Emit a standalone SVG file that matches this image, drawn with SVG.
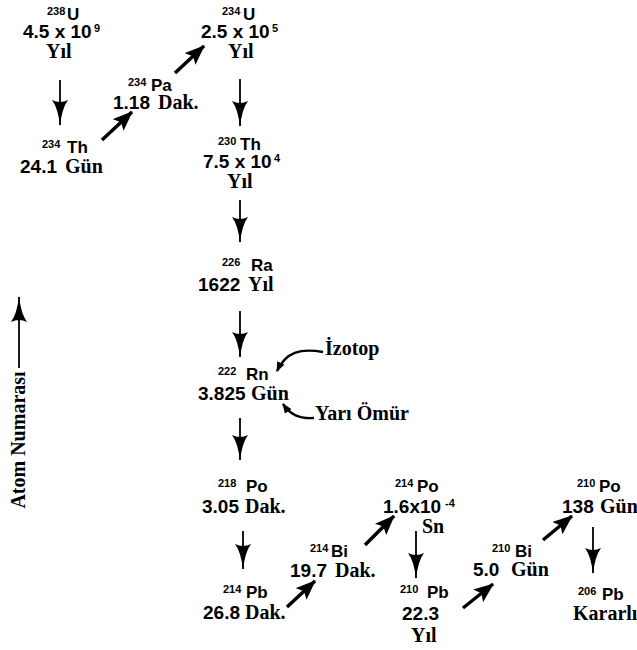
<svg xmlns="http://www.w3.org/2000/svg" width="637" height="650" viewBox="0 0 637 650">
<defs>
<style>
.s{font-family:"Liberation Sans",Arial,sans-serif;font-weight:bold;font-size:19px;fill:#000}
.e{font-family:"Liberation Sans",Arial,sans-serif;font-weight:bold;font-size:17px;fill:#000}
.r{font-family:"Liberation Serif","Times New Roman",serif;font-weight:bold;font-size:20px;fill:#000}
.p{font-family:"Liberation Sans",Arial,sans-serif;font-weight:bold;font-size:11px;fill:#000}
.v{stroke:#000;stroke-width:1.8;fill:none}
.d{stroke:#000;stroke-width:3.5;fill:none}
.c{stroke:#000;stroke-width:2.4;fill:none}
</style>
<marker id="ah" viewBox="0 0 26 16" refX="25" refY="8" markerWidth="26" markerHeight="16" markerUnits="userSpaceOnUse" orient="auto">
<path d="M0,0 Q8,6 26,8 Q8,10 0,16 Q4,8 0,0 Z" fill="#000"/>
</marker>
<marker id="ad" viewBox="0 0 20 16" refX="19" refY="8" markerWidth="20" markerHeight="16" markerUnits="userSpaceOnUse" orient="auto">
<path d="M0,0 L20,8 L0,16 L4,8 Z" fill="#000"/>
</marker>
<marker id="as" viewBox="0 0 10 8" refX="9" refY="4" markerWidth="10" markerHeight="8" markerUnits="userSpaceOnUse" orient="auto">
<path d="M0,0 L10,4 L0,8 Z" fill="#000"/>
</marker>
</defs>
<rect width="637" height="650" fill="#fff"/>

<g id="connectors">
<line class="v" x1="60" y1="80" x2="60" y2="125" marker-end="url(#ah)"/>
<line class="d" x1="102" y1="140" x2="132" y2="112" marker-end="url(#ad)"/>
<line class="d" x1="175" y1="73" x2="204" y2="46" marker-end="url(#ad)"/>
<line class="v" x1="240" y1="79" x2="240" y2="126" marker-end="url(#ah)"/>
<line class="v" x1="240" y1="200" x2="240" y2="242" marker-end="url(#ah)"/>
<line class="v" x1="240" y1="311" x2="240" y2="357" marker-end="url(#ah)"/>
<line class="v" x1="240" y1="418" x2="240" y2="460" marker-end="url(#ah)"/>
<line class="v" x1="243" y1="531" x2="243" y2="569" marker-end="url(#ah)"/>
<line class="d" x1="287" y1="607" x2="315" y2="581" marker-end="url(#ad)"/>
<line class="d" x1="365" y1="545" x2="394" y2="516" marker-end="url(#ad)"/>
<line class="v" x1="416" y1="531" x2="416" y2="578" marker-end="url(#ah)"/>
<line class="d" x1="463" y1="608" x2="493" y2="584" marker-end="url(#ad)"/>
<line class="d" x1="543" y1="540" x2="572" y2="516" marker-end="url(#ad)"/>
<line class="v" x1="593" y1="527" x2="593" y2="573" marker-end="url(#ah)"/>
<path class="c" d="M323,352 C300,348 286,352 277,371" marker-end="url(#as)"/>
<path class="c" d="M314,418 C298,419 290,414 283,404" marker-end="url(#as)"/>
<line class="v" x1="19" y1="368" x2="19" y2="297" marker-end="url(#ah)"/>
</g>

<g id="u238">
<text class="p" x="47" y="15">238</text><text class="e" x="67" y="20">U</text>
<text class="s" x="23" y="38">4.5 x 10</text><text class="p" x="94" y="32">9</text>
<text class="r" x="46" y="58">Yıl</text>
</g>
<g id="th234">
<text class="p" x="42" y="148">234</text><text class="e" x="67" y="153">Th</text>
<text class="s" x="20" y="173">24.1</text><text class="r" x="65" y="173">Gün</text>
</g>
<g id="pa234">
<text class="p" x="128" y="86">234</text><text class="e" x="151" y="91">Pa</text>
<text class="s" x="113" y="109">1.18</text><text class="r" x="158" y="109">Dak.</text>
</g>
<g id="u234">
<text class="p" x="222" y="15">234</text><text class="e" x="243" y="20">U</text>
<text class="s" x="201" y="38">2.5 x 10</text><text class="p" x="272" y="32">5</text>
<text class="r" x="228" y="58">Yıl</text>
</g>
<g id="th230">
<text class="p" x="218" y="145">230</text><text class="e" x="240" y="150">Th</text>
<text class="s" x="203" y="168">7.5 x 10</text><text class="p" x="274" y="162">4</text>
<text class="r" x="227" y="188">Yıl</text>
</g>
<g id="ra226">
<text class="p" x="222" y="266">226</text><text class="e" x="251" y="271">Ra</text>
<text class="s" x="198" y="291">1622</text><text class="r" x="248" y="291">Yıl</text>
</g>
<g id="rn222">
<text class="p" x="218" y="375">222</text><text class="e" x="246" y="380">Rn</text>
<text class="s" x="198" y="400">3.825</text><text class="r" x="251" y="400">Gün</text>
</g>
<g id="izotop">
<text class="r" x="325" y="355">İzotop</text>
</g>
<g id="yari-omur">
<text class="r" x="315" y="420">Yarı Ömür</text>
</g>
<g id="po218">
<text class="p" x="218" y="487">218</text><text class="e" x="246" y="492">Po</text>
<text class="s" x="202" y="513">3.05</text><text class="r" x="245" y="513">Dak.</text>
</g>
<g id="pb214">
<text class="p" x="223" y="593">214</text><text class="e" x="246" y="598">Pb</text>
<text class="s" x="203" y="619">26.8</text><text class="r" x="245" y="619">Dak.</text>
</g>
<g id="bi214">
<text class="p" x="310" y="552">214</text><text class="e" x="331" y="557">Bi</text>
<text class="s" x="290" y="577">19.7</text><text class="r" x="335" y="577">Dak.</text>
</g>
<g id="po214">
<text class="p" x="395" y="487">214</text><text class="e" x="417" y="492">Po</text>
<text class="s" x="383" y="513">1.6x10</text><text class="p" x="445" y="507">-4</text>
<text class="r" x="422" y="533">Sn</text>
</g>
<g id="pb210">
<text class="p" x="400" y="593">210</text><text class="e" x="427" y="598">Pb</text>
<text class="s" x="402" y="620">22.3</text>
<text class="r" x="411" y="642">Yıl</text>
</g>
<g id="bi210">
<text class="p" x="492" y="552">210</text><text class="e" x="515" y="557">Bi</text>
<text class="s" x="473" y="576">5.0</text><text class="r" x="511" y="576">Gün</text>
</g>
<g id="po210">
<text class="p" x="577" y="487">210</text><text class="e" x="599" y="492">Po</text>
<text class="s" x="562" y="513">138</text><text class="r" x="600" y="513" font-size="18.5">Gün</text>
</g>
<g id="pb206">
<text class="p" x="578" y="595">206</text><text class="e" x="602" y="600">Pb</text>
<text class="r" x="573" y="620" font-size="19">Kararlı</text>
</g>
<g id="axis-label">
<text class="r" transform="translate(25,440) rotate(-90)" text-anchor="middle">Atom Numarası</text>
</g>
</svg>
